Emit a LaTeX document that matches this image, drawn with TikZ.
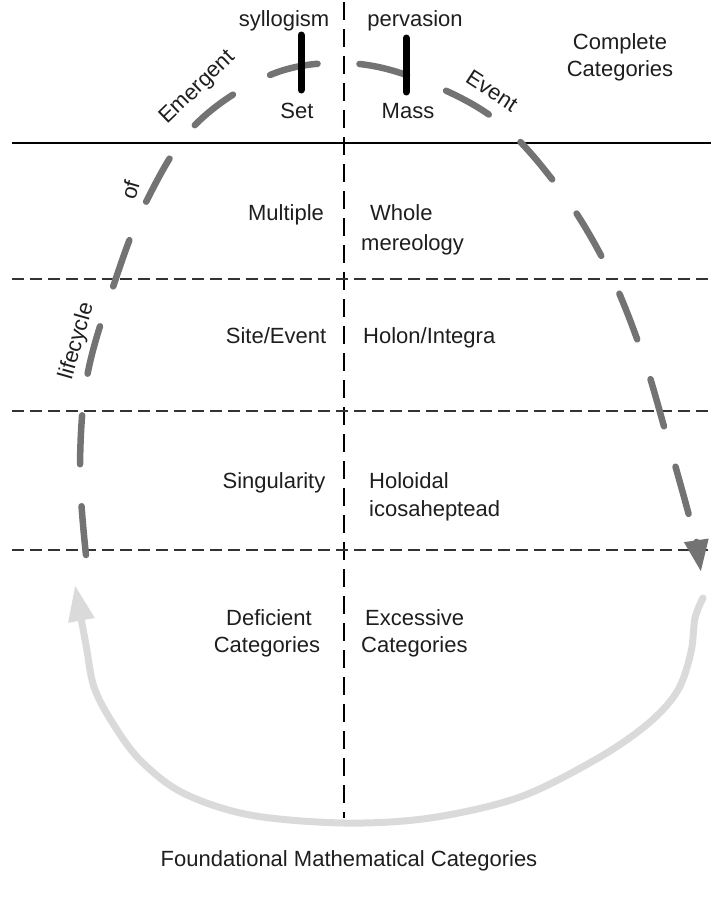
\documentclass[tikz,border=0pt]{standalone}
\usepackage{fontspec}
\setmainfont{Liberation Sans}
\usetikzlibrary{arrows.meta}
\definecolor{cycledark}{RGB}{115,115,115}
\definecolor{cyclelight}{RGB}{218,218,218}
\definecolor{inktext}{RGB}{30,30,30}
\begin{document}
\begin{tikzpicture}[x=1pt,y=-1pt,
  lbl/.style={font=\fontsize{22}{27}\selectfont, text=inktext, inner sep=0pt},
  axisline/.style={draw=black, line width=1.8pt, dash pattern=on 18pt off 9pt},
  bandline/.style={draw=black!80, line width=1.6pt, dash pattern=on 12pt off 6pt},
  topline/.style={draw=black, line width=2pt},
  bar/.style={draw=black, line width=7pt, line cap=round},
  cycleflow/.style={draw=cycledark, line width=6.5pt, line cap=round,
    dash pattern=on 49pt off 42pt, -{Triangle[length=32pt,width=23pt]}},
  returnflow/.style={draw=cyclelight, line width=7pt, line cap=round,
    -{Triangle[length=36pt,width=25pt]}}]
\useasboundingbox (0,0) rectangle (711,905);

% frame lines
\coordinate (axTop) at (344,2);
\coordinate (axBot) at (344,818);
\draw[axisline] (axTop) -- (axBot);
\coordinate (tlL) at (12,143);
\coordinate (tlR) at (711,143);
\draw[topline] (tlL) -- (tlR);
\foreach \yy/\nm in {279/a,411/b,550/c}{
  \coordinate (band\nm L) at (12,\yy);
  \coordinate (band\nm R) at (711,\yy);
  \draw[bandline] (band\nm L) -- (band\nm R);
}

% return arrow (light)
\coordinate (retStart) at (703,598);
\coordinate (retEnd) at (75,585);
\draw[returnflow] plot[smooth, tension=0.55] coordinates {
  (retStart) (695,618) (691,652) (678,690) (650,722) (600,757) (520,797)
  (430,818) (344,823) (250,815) (183,793) (140,760) (112,722) (94,687)
  (86,645) (retEnd)};

% lifecycle arrow (dark, dashed)
\coordinate (cycStart) at (86,555);
\coordinate (cycEnd) at (701,572);
\draw[cycleflow] plot[smooth, tension=0.6] coordinates {
  (cycStart) (80,470) (87,377) (113,287) (146,202) (195,125) (270,75)
  (344,63) (415,78) (495,119) (558,187) (606,265) (641,350) (667,437)
  (692,527) (cycEnd)};

% bars on the arc
\coordinate (barAt) at (301,35);
\coordinate (barAb) at (301,90);
\coordinate (barBt) at (406,38);
\coordinate (barBb) at (406,92);
\draw[bar] (barAt) -- (barAb);
\draw[bar] (barBt) -- (barBb);

% labels
\node[lbl, anchor=base] (syl) at (284,26) {syllogism};
\node[lbl, anchor=base] (perv) at (415,26) {pervasion};
\node[lbl, anchor=base] (set) at (297,118) {Set};
\node[lbl, anchor=base] (mass) at (408,118) {Mass};
\node[lbl, anchor=base] (compA) at (620,49) {Complete};
\node[lbl, anchor=base] (compB) at (620,76) {Categories};

\node[lbl, rotate=44] (emerg) at (198,88) {Emergent};
\node[lbl, rotate=-33] (event) at (492,91) {Event};
\node[lbl, rotate=74] (of) at (130,190) {of};
\node[lbl, rotate=74] (life) at (77,341) {lifecycle};

\node[lbl, anchor=base] (mult) at (286,220) {Multiple};
\node[lbl, anchor=base west] (wholeA) at (370,220) {Whole};
\node[lbl, anchor=base west] (wholeB) at (361,250) {mereology};

\node[lbl, anchor=base] (site) at (276,343) {Site/Event};
\node[lbl, anchor=base west] (holon) at (363,343) {Holon/Integra};

\node[lbl, anchor=base] (sing) at (274,488) {Singularity};
\node[lbl, anchor=base west] (holA) at (369,488) {Holoidal};
\node[lbl, anchor=base west] (holB) at (369,516) {icosaheptead};

\node[lbl, anchor=base] (defA) at (269,625) {Deficient};
\node[lbl, anchor=base] (defB) at (267,652) {Categories};
\node[lbl, anchor=base west] (excA) at (365,625) {Excessive};
\node[lbl, anchor=base west] (excB) at (361,652) {Categories};

\node[lbl, anchor=base] (found) at (349,866) {Foundational Mathematical Categories};
\end{tikzpicture}
\end{document}
